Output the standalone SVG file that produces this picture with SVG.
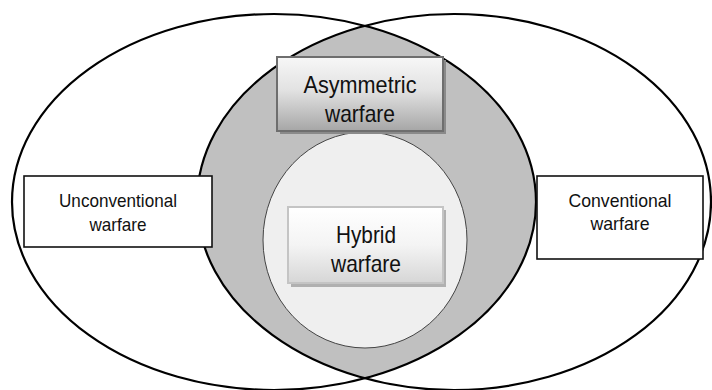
<svg xmlns="http://www.w3.org/2000/svg" width="712" height="390" viewBox="0 0 712 390">
  <style>
    .set { fill: none; stroke: #000; stroke-width: 2.2; }
    .lbl { font-family: "Liberation Sans", Arial, sans-serif; fill: #111; text-anchor: middle; }
    .big { font-size: 24px; }
    .small { font-size: 19px; }
    .plain { fill: #fff; stroke: #111; stroke-width: 1.6; }
  </style>
  <defs>
    <clipPath id="clipLeft">
      <ellipse cx="274" cy="202" rx="262" ry="188"/>
    </clipPath>
    <linearGradient id="gAsym" x1="0" y1="0" x2="0" y2="1">
      <stop offset="0" stop-color="#f7f7f7"/>
      <stop offset="0.45" stop-color="#e2e2e2"/>
      <stop offset="1" stop-color="#a6a6a6"/>
    </linearGradient>
    <linearGradient id="gHyb" x1="0" y1="0" x2="0" y2="1">
      <stop offset="0" stop-color="#ffffff"/>
      <stop offset="0.5" stop-color="#f4f4f4"/>
      <stop offset="1" stop-color="#d6d6d6"/>
    </linearGradient>
  </defs>
  <rect width="712" height="390" fill="#fff"/>

  <g id="lens">
    <ellipse cx="454" cy="202" rx="257" ry="188" fill="#c0c0c0" clip-path="url(#clipLeft)"/>
  </g>

  <g id="inner-circle">
    <ellipse cx="365" cy="240" rx="102" ry="108" fill="#efefef" stroke="#444" stroke-width="1"/>
  </g>

  <g id="set-unconventional">
    <ellipse class="set" cx="274" cy="202" rx="262" ry="188"/>
  </g>
  <g id="set-conventional">
    <ellipse class="set" cx="454" cy="202" rx="257" ry="188"/>
  </g>

  <g id="connectors"></g>

  <g id="node-asymmetric">
    <rect x="280" y="60" width="166" height="74" fill="#8a8a8a"/>
    <rect x="277" y="57" width="166" height="74" fill="url(#gAsym)" stroke="#6e6e6e" stroke-width="2"/>
    <text class="lbl big" x="360" y="93" textLength="113" lengthAdjust="spacingAndGlyphs">Asymmetric</text>
    <text class="lbl big" x="360" y="122" textLength="70" lengthAdjust="spacingAndGlyphs">warfare</text>
  </g>

  <g id="node-hybrid">
    <rect x="291" y="210" width="155" height="77" fill="#b0b0b0"/>
    <rect x="288" y="207" width="155" height="76" fill="url(#gHyb)" stroke="#c4c4c4" stroke-width="2"/>
    <text class="lbl big" x="366" y="243" textLength="60" lengthAdjust="spacingAndGlyphs">Hybrid</text>
    <text class="lbl big" x="366" y="272" textLength="70" lengthAdjust="spacingAndGlyphs">warfare</text>
  </g>

  <g id="node-unconventional">
    <rect class="plain" x="24" y="176" width="188" height="71"/>
    <text class="lbl small" x="118" y="207" textLength="118" lengthAdjust="spacingAndGlyphs">Unconventional</text>
    <text class="lbl small" x="118" y="231" textLength="57" lengthAdjust="spacingAndGlyphs">warfare</text>
  </g>

  <g id="node-conventional">
    <rect class="plain" x="537" y="176" width="166" height="83"/>
    <text class="lbl small" x="620" y="207" textLength="103" lengthAdjust="spacingAndGlyphs">Conventional</text>
    <text class="lbl small" x="620" y="230" textLength="59" lengthAdjust="spacingAndGlyphs">warfare</text>
  </g>
</svg>
